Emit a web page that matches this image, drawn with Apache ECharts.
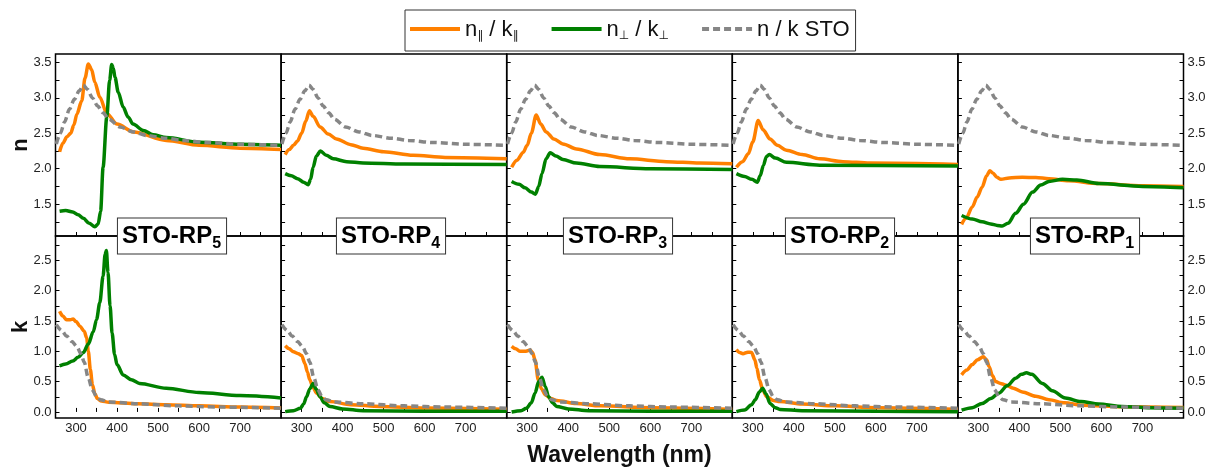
<!DOCTYPE html>
<html>
<head>
<meta charset="utf-8">
<script src="https://cdn.jsdelivr.net/npm/echarts@6.0.0/dist/echarts.min.js"></script>
<style>
    html, body { margin: 0; padding: 0; background: #fff; }
    #main { width: 1213px; height: 471px; }
</style>
</head>
<body>
<div id="main"></div>
<script>
// samples from left to right
var samples = ['5', '4', '3', '2', '1'];

// tick values
var xLabels = [300, 400, 500, 600, 700];
var xTicks = [300, 350, 400, 450, 500, 550, 600, 650, 700, 750];
var nLabels = [1.5, 2.0, 2.5, 3.0, 3.5];
var nTicks = [1.25, 1.5, 1.75, 2.0, 2.25, 2.5, 2.75, 3.0, 3.25, 3.5];
var kLabels = [0, 0.5, 1.0, 1.5, 2.0, 2.5];
var kTicks = [0, 0.25, 0.5, 0.75, 1.0, 1.25, 1.5, 1.75, 2.0, 2.25, 2.5, 2.75];

// bulk STO reference (same in every panel)
var nSTO = [[252,2.35],[262,2.5],[272,2.66],[284,2.84],[296,2.98],[308,3.1],[318,3.18],[328,3.12],[340,3.0],[352,2.89],[366,2.79],[380,2.7],[407,2.59],[440,2.52],[472,2.47],[520,2.43],[560,2.4],[620,2.37],[700,2.345],[800,2.33]];
var kSTO = [[252,1.44],[265,1.34],[277,1.25],[290,1.16],[302,1.08],[312,0.96],[320,0.82],[330,0.56],[340,0.36],[350,0.25],[360,0.2],[380,0.165],[450,0.135],[550,0.1],[650,0.08],[800,0.06]];

// STO-RP5
var nPar5 = [[260,2.24],[268,2.36],[278,2.45],[287,2.5],[295,2.62],[302,2.77],[314,2.96],[322,3.28],[330,3.48],[338,3.4],[346,3.22],[358,3.01],[375,2.78],[400,2.63],[440,2.52],[520,2.4],[600,2.33],[700,2.29],[800,2.27]];
var nPerp5 = [[260,1.4],[275,1.41],[292,1.39],[305,1.35],[318,1.3],[332,1.23],[346,1.18],[354,1.22],[360,1.4],[366,2.02],[375,2.73],[382,3.25],[387,3.47],[391,3.42],[395,3.29],[403,3.08],[415,2.87],[427,2.73],[439,2.63],[464,2.54],[488,2.48],[520,2.44],[600,2.375],[700,2.345],[800,2.33]];
var kPar5 = [[260,1.66],[268,1.58],[277,1.52],[286,1.52],[293,1.53],[300,1.49],[310,1.41],[320,1.33],[326,1.22],[330,1.0],[335,0.7],[340,0.45],[346,0.3],[352,0.22],[362,0.18],[380,0.16],[450,0.135],[520,0.12],[600,0.1],[700,0.08],[800,0.065]];
var kPerp5 = [[260,0.76],[275,0.79],[292,0.84],[305,0.9],[318,0.98],[330,1.12],[342,1.32],[350,1.52],[358,1.8],[366,2.24],[371,2.6],[374,2.66],[378,2.3],[383,1.75],[388,1.3],[394,0.95],[400,0.78],[415,0.61],[435,0.53],[455,0.47],[520,0.39],[600,0.32],[700,0.27],[800,0.23]];

// STO-RP4
var nPar4 = [[260,2.2],[270,2.27],[280,2.33],[290,2.39],[300,2.5],[310,2.67],[319,2.82],[328,2.74],[345,2.59],[365,2.49],[385,2.42],[420,2.34],[450,2.29],[500,2.24],[572,2.19],[650,2.16],[800,2.14]];
var nPerp4 = [[260,1.93],[275,1.9],[290,1.86],[305,1.81],[316,1.775],[322,1.85],[328,2.02],[336,2.18],[346,2.25],[360,2.19],[377,2.14],[410,2.1],[450,2.08],[550,2.065],[800,2.06]];
var kPar4 = [[260,1.09],[270,1.04],[280,0.99],[292,0.96],[300,0.93],[308,0.8],[314,0.66],[320,0.53],[328,0.4],[337,0.31],[350,0.22],[369,0.17],[420,0.12],[491,0.09],[600,0.065],[800,0.045]];
var kPerp4 = [[260,0.005],[280,0.02],[297,0.06],[305,0.13],[312,0.25],[320,0.38],[328,0.47],[335,0.38],[345,0.25],[355,0.15],[369,0.09],[400,0.05],[450,0.02],[600,0.01],[800,0.01]];

// STO-RP3
var nPar3 = [[262,2.02],[275,2.12],[290,2.23],[300,2.33],[310,2.5],[322,2.76],[333,2.63],[346,2.52],[365,2.42],[387,2.35],[420,2.28],[477,2.2],[550,2.14],[639,2.1],[720,2.08],[800,2.07]];
var nPerp3 = [[262,1.82],[280,1.78],[295,1.73],[310,1.67],[320,1.64],[328,1.75],[336,1.93],[346,2.14],[356,2.225],[370,2.18],[387,2.13],[420,2.08],[477,2.03],[600,2.0],[800,1.99]];
var kPar3 = [[262,1.08],[272,1.04],[283,1.0],[297,1.0],[307,1.02],[313,0.98],[319,0.86],[327,0.53],[335,0.38],[344,0.28],[358,0.22],[372,0.19],[420,0.14],[477,0.1],[600,0.07],[800,0.045]];
var kPerp3 = [[262,0.0],[285,0.02],[298,0.06],[310,0.15],[319,0.31],[328,0.5],[336,0.57],[344,0.42],[352,0.25],[362,0.15],[372,0.09],[400,0.05],[450,0.02],[600,0.01],[800,0.01]];

// STO-RP2
var nPar2 = [[260,2.02],[275,2.1],[289,2.21],[300,2.38],[313,2.68],[325,2.55],[342,2.42],[360,2.33],[382,2.26],[420,2.2],[463,2.14],[520,2.1],[585,2.08],[800,2.06]];
var nPerp2 = [[260,1.93],[280,1.89],[298,1.85],[311,1.81],[318,1.9],[326,2.05],[333,2.17],[340,2.2],[355,2.15],[382,2.09],[463,2.05],[800,2.04]];
var kPar2 = [[260,1.03],[268,0.98],[276,0.96],[288,0.985],[297,0.98],[305,0.86],[310,0.72],[316,0.53],[325,0.35],[334,0.25],[350,0.19],[366,0.17],[420,0.13],[500,0.1],[600,0.07],[800,0.045]];
var kPerp2 = [[260,0.005],[280,0.03],[297,0.12],[306,0.2],[316,0.33],[324,0.39],[332,0.3],[342,0.14],[355,0.07],[366,0.04],[420,0.02],[600,0.01],[800,0.005]];

// STO-RP1
var nPar1 = [[259,1.215],[270,1.3],[285,1.46],[297,1.6],[309,1.74],[320,1.9],[328,1.97],[335,1.94],[345,1.88],[355,1.85],[375,1.87],[407,1.88],[440,1.875],[472,1.86],[520,1.83],[594,1.79],[700,1.76],[800,1.75]];
var nPerp1 = [[259,1.34],[285,1.29],[309,1.25],[330,1.22],[346,1.2],[358,1.19],[372,1.23],[391,1.37],[410,1.5],[432,1.67],[452,1.77],[472,1.82],[505,1.85],[540,1.84],[594,1.79],[700,1.75],[800,1.73]];
var kPar1 = [[259,0.61],[272,0.69],[285,0.78],[298,0.86],[312,0.91],[320,0.86],[326,0.75],[334,0.6],[342,0.5],[354,0.47],[366,0.445],[385,0.39],[407,0.33],[440,0.26],[472,0.2],[510,0.15],[553,0.11],[650,0.085],[800,0.075]];
var kPerp1 = [[259,0.03],[285,0.07],[309,0.14],[330,0.22],[350,0.31],[370,0.43],[391,0.556],[405,0.62],[417,0.645],[430,0.62],[456,0.47],[480,0.35],[512,0.23],[550,0.17],[593,0.13],[650,0.09],[715,0.07],[800,0.06]];

var nPar = [nPar5, nPar4, nPar3, nPar2, nPar1];
var nPerp = [nPerp5, nPerp4, nPerp3, nPerp2, nPerp1];
var kPar = [kPar5, kPar4, kPar3, kPar2, kPar1];
var kPerp = [kPerp5, kPerp4, kPerp3, kPerp2, kPerp1];

(function () {
    "use strict";
    var myChart = echarts.init(document.getElementById('main'));

    var plotLeft = 55.5, panelW = 225.6, plotTop = 54, rowH = 182;
    var labelX = [172, 391, 618, 840, 1085];
    var font = 'Liberation Sans, Arial, sans-serif';

    var lineStyles = {
        par: {color: '#ff8000', width: 3.5},
        perp: {color: '#008000', width: 3.5},
        sto: {color: '#868686', width: 3.5, type: [7, 4]}
    };

    var grids = [], xAxes = [], yAxes = [], series = [], graphics = [];

    function fmt(v) {
        return Number(v).toFixed(1);
    }

    function tickAxis(gi, r, position, showLabel) {
        return {
            gridIndex: gi,
            type: 'value',
            position: position,
            min: r ? -0.1 : 1.05,
            max: r ? 2.9 : 3.62,
            axisLine: {show: false},
            splitLine: {show: false},
            axisTick: {
                inside: true,
                length: 4,
                customValues: r ? kTicks : nTicks,
                lineStyle: {color: '#000', width: 1}
            },
            axisLabel: {
                show: showLabel,
                customValues: r ? kLabels : nLabels,
                formatter: fmt,
                margin: 4,
                fontSize: 13,
                color: '#222',
                fontFamily: font
            }
        };
    }

    for (var r = 0; r < 2; r++) {
        for (var c = 0; c < 5; c++) {
            var gi = r * 5 + c;
            grids.push({
                left: plotLeft + panelW * c,
                top: plotTop + rowH * r,
                width: panelW,
                height: rowH,
                show: true,
                borderColor: '#000',
                borderWidth: 1.5,
                backgroundColor: 'transparent'
            });

            var xa = {
                gridIndex: gi,
                type: 'value',
                min: 250,
                max: 800,
                axisLine: {show: false},
                splitLine: {show: false},
                axisTick: {
                    inside: true,
                    length: 4,
                    customValues: xTicks,
                    lineStyle: {color: '#000', width: 1}
                },
                axisLabel: {
                    show: r === 1,
                    customValues: xLabels,
                    margin: 4,
                    fontSize: 13,
                    color: '#222',
                    fontFamily: font
                }
            };
            if (r === 1 && c === 2) {
                xa.name = 'Wavelength (nm)';
                xa.nameLocation = 'middle';
                xa.nameGap = 26;
                xa.nameTextStyle = {fontSize: 23, fontWeight: 'bold', color: '#111', fontFamily: font};
            }
            xAxes.push(xa);

            var ya = tickAxis(gi, r, 'left', c === 0);
            if (c === 0) {
                ya.name = r ? 'k' : 'n';
                ya.nameLocation = 'middle';
                ya.nameGap = 24;
                ya.nameMoveOverlap = false;
                ya.nameTextStyle = {fontSize: 22, fontWeight: 'bold', color: '#111', fontFamily: font};
            }
            var yIdx = yAxes.length;
            yAxes.push(ya);
            if (c === 4) {
                yAxes.push(tickAxis(gi, r, 'right', true));
            }

            var sets = r ? [kPar[c], kPerp[c], kSTO] : [nPar[c], nPerp[c], nSTO];
            ['par', 'perp', 'sto'].forEach(function (key, j) {
                series.push({
                    name: key,
                    type: 'line',
                    xAxisIndex: gi,
                    yAxisIndex: yIdx,
                    data: sets[j],
                    symbol: 'none',
                    smooth: 0.3,
                    smoothMonotone: 'x',
                    lineStyle: lineStyles[key],
                    itemStyle: {color: lineStyles[key].color},
                    z: 2 + j
                });
            });
        }
    }

    // STO-RP boxes sitting on the divider
    samples.forEach(function (s, i) {
        graphics.push({
            type: 'text',
            x: labelX[i],
            y: 236,
            z: 100,
            style: {
                text: '{a|STO-RP}{b|' + s + '}',
                align: 'center',
                verticalAlign: 'middle',
                backgroundColor: '#fff',
                borderColor: '#333',
                borderWidth: 1,
                padding: [3, 5, 2, 4],
                rich: {
                    a: {fontSize: 24, fontWeight: 'bold', fontFamily: font, fill: '#000', lineHeight: 30, verticalAlign: 'bottom', padding: [0, 0, 3, 0]},
                    b: {fontSize: 16, fontWeight: 'bold', fontFamily: font, fill: '#000', lineHeight: 30, verticalAlign: 'bottom'}
                }
            }
        });
    });

    var legendText = {
        par: '{m|n}{s|∥}{m| / k}{s|∥}',
        perp: '{m|n}{s|⊥}{m| / k}{s|⊥}',
        sto: '{m|n / k STO}'
    };

    var option = {
        animation: false,
        backgroundColor: '#fff',
        textStyle: {fontFamily: font},
        legend: {
            left: 405,
            top: 10,
            data: ['par', 'perp', 'sto'],
            itemWidth: 50,
            itemHeight: 14,
            itemGap: 31,
            itemStyle: {opacity: 0},
            lineStyle: {width: 4},
            borderColor: '#333',
            borderWidth: 1,
            padding: [9, 6, 9, 3],
            formatter: function (name) {
                return legendText[name];
            },
            textStyle: {
                fontSize: 22,
                color: '#111',
                rich: {
                    m: {fontSize: 22, fontFamily: font, color: '#111', lineHeight: 26, verticalAlign: 'bottom', padding: [0, 0, 1, 0]},
                    s: {fontSize: 12, fontFamily: 'DejaVu Sans', color: '#111', lineHeight: 26, verticalAlign: 'bottom'}
                }
            }
        },
        grid: grids,
        xAxis: xAxes,
        yAxis: yAxes,
        series: series,
        graphic: graphics
    };
    myChart.setOption(option);
})();
</script>
</body>
</html>
